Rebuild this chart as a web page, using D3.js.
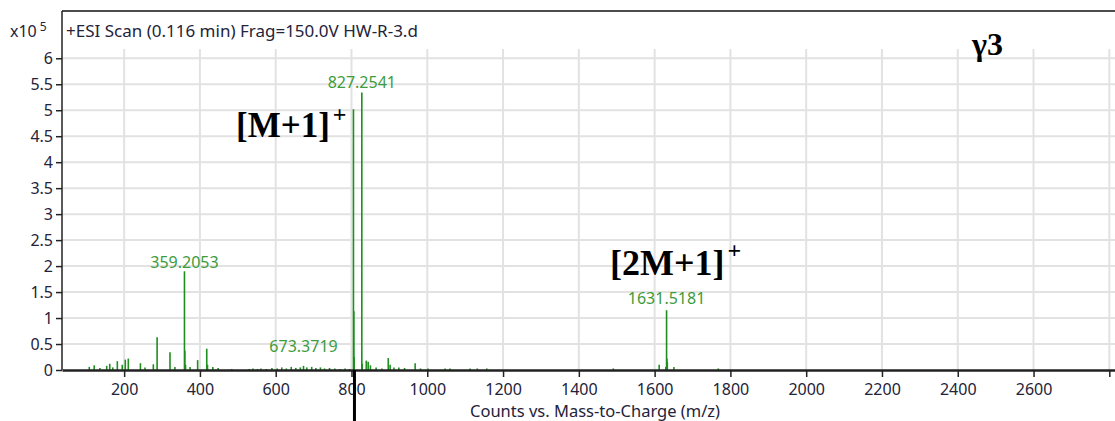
<html lang="en">
<head>
    <meta charset="UTF-8">
    <title>ESI Scan HW-R-3</title>
    <script src="https://d3js.org/d3.v7.min.js"></script>
    <style>
        body { margin: 0; background: #fff; }
        svg text { font-family: "Noto Sans", "Open Sans", sans-serif; }
        .axis path, .axis line { stroke: #222; }
        .axis text { fill: #23233a; font-size: 16px; }
        .grid line { stroke: #e2e2e2; stroke-width: 2; }
        .ann { font-family: "Liberation Serif", "Times New Roman", serif !important; font-weight: bold; fill: #000; }
    </style>
</head>
<body>
<div id="chart"></div>
<script>
    // chart data (intensity in units of 10^5 counts)
    var title = "+ESI Scan (0.116 min) Frag=150.0V HW-R-3.d";
    var xTitle = "Counts vs. Mass-to-Charge (m/z)";
    var xTicks = [200, 400, 600, 800, 1000, 1200, 1400, 1600, 1800, 2000, 2200, 2400, 2600];
    var yTicks = [0, 0.5, 1, 1.5, 2, 2.5, 3, 3.5, 4, 4.5, 5, 5.5, 6];

    var peakMz = [108, 121, 136, 154, 162, 170, 182, 195, 203, 211, 243, 255, 277, 287, 321, 334,
        359.2053, 360.2, 362, 374, 394, 418, 420, 434, 448, 484,
        530, 540, 552, 561, 575, 590, 604, 616, 628, 641, 653, 665, 673.3719, 682, 695, 706, 718, 729, 742, 756, 770, 783, 795,
        805.2, 806.2, 807.2, 827.2541, 828.3, 839, 844, 850, 865, 880, 897, 902, 912, 925, 940, 968, 982, 1002,
        1047, 1060, 1113, 1132, 1157, 1491, 1612, 1629.5, 1631.5181, 1632.5, 1633.5, 1651, 1768];
    var peakInt = [0.06, 0.09, 0.04, 0.08, 0.12, 0.05, 0.17, 0.1, 0.2, 0.22, 0.13, 0.05, 0.11, 0.63, 0.34, 0.06,
        1.9, 0.37, 0.1, 0.06, 0.19, 0.41, 0.1, 0.06, 0.04, 0.02,
        0.02, 0.03, 0.02, 0.03, 0.02, 0.04, 0.03, 0.05, 0.03, 0.06, 0.04, 0.05, 0.08, 0.05, 0.06, 0.04, 0.05, 0.03, 0.04, 0.03, 0.02, 0.03, 0.02,
        5.02, 1.13, 0.25, 5.34, 0.12, 0.18, 0.16, 0.09, 0.05, 0.03, 0.23, 0.1, 0.05, 0.05, 0.04, 0.13, 0.03, 0.03,
        0.03, 0.03, 0.03, 0.03, 0.03, 0.03, 0.1, 0.06, 1.15, 0.22, 0.15, 0.06, 0.03];

    // labelled peaks: m/z, label y-value
    var labelMz = [359.2053, 673.3719, 827.2541, 1631.5181];
    var labelText = ["359.2053", "673.3719", "827.2541", "1631.5181"];
    var labelAt = [1.96, 0.34, 5.42, 1.27];

    var width = 1115, height = 421;
    var svg = d3.select("#chart").append("svg")
        .attr("width", width)
        .attr("height", height);

    var x = d3.scaleLinear().domain([36, 2815]).range([62, 1115]);
    var y = d3.scaleLinear().domain([0, 6.91]).range([370, 11]);

    // grid
    var grid = svg.append("g").attr("class", "grid");
    grid.selectAll(".vg").data(xTicks.concat([2800])).enter().append("line")
        .attr("x1", function (d) { return x(d); })
        .attr("x2", function (d) { return x(d); })
        .attr("y1", 49).attr("y2", y(0));
    grid.selectAll(".hg").data(yTicks.slice(1)).enter().append("line")
        .attr("x1", x(36)).attr("x2", width)
        .attr("y1", function (d) { return y(d); })
        .attr("y2", function (d) { return y(d); });

    // peaks
    var peaks = peakMz.map(function (m, i) { return {mz: m, v: peakInt[i]}; });
    svg.append("g").selectAll("line").data(peaks).enter().append("line")
        .attr("x1", function (d) { return x(d.mz); })
        .attr("x2", function (d) { return x(d.mz); })
        .attr("y1", y(0))
        .attr("y2", function (d) { return y(d.v); })
        .attr("stroke", "#1e8f1e")
        .attr("stroke-width", 1.6);

    svg.append("g").selectAll("text").data(labelMz).enter().append("text")
        .attr("x", function (d) { return x(d); })
        .attr("y", function (d, i) { return y(labelAt[i]); })
        .attr("text-anchor", "middle")
        .attr("fill", "#3c9c3c")
        .style("font-size", "16px")
        .text(function (d, i) { return labelText[i]; });

    // axes
    var xAxis = svg.append("g").attr("class", "axis")
        .attr("transform", "translate(0," + y(0) + ")")
        .call(d3.axisBottom(x).tickValues(xTicks.concat([2800])).tickSize(7).tickSizeOuter(0)
            .tickFormat(function (d) { return d === 2800 ? "" : d; }));
    xAxis.select(".domain").attr("stroke-width", 2.5);
    xAxis.selectAll(".tick line").attr("stroke-width", 1.5);
    xAxis.selectAll("text").attr("dy", "0.95em");

    var yAxis = svg.append("g").attr("class", "axis")
        .attr("transform", "translate(" + x(36) + ",0)")
        .call(d3.axisLeft(y).tickValues(yTicks).tickSize(6).tickSizeOuter(0)
            .tickFormat(function (d) { return d; }));
    yAxis.select(".domain").attr("stroke-width", 1.5)
        .attr("d", "M0," + y(0) + "V" + y(6.91));
    yAxis.selectAll(".tick line").attr("stroke-width", 1.5);

    // frame top
    svg.append("line").attr("x1", x(36)).attr("x2", width)
        .attr("y1", 11).attr("y2", 11)
        .attr("stroke", "#111").attr("stroke-width", 1.5);

    // titles
    svg.append("text").attr("x", 66).attr("y", 37)
        .attr("fill", "#23233a").style("font-size", "17px").text(title);
    var xt = svg.append("text").attr("x", 10).attr("y", 37)
        .attr("fill", "#23233a").style("font-size", "16px").text("x10");
    xt.append("tspan").attr("dx", 3).attr("dy", -6).style("font-size", "12px").text("5");

    svg.append("text").attr("x", 595).attr("y", 417)
        .attr("text-anchor", "middle").attr("fill", "#23233a")
        .style("font-size", "16.5px").text(xTitle);

    // annotations
    svg.append("line").attr("x1", x(805.2) + 1).attr("x2", x(805.2) + 1)
        .attr("y1", y(0)).attr("y2", height)
        .attr("stroke", "#000").attr("stroke-width", 3);

    var a1 = svg.append("text").attr("class", "ann").attr("x", 236).attr("y", 137)
        .style("font-size", "35px").text("[M+1]");
    a1.append("tspan").attr("dx", 3).attr("dy", -15).style("font-size", "24px").text("+");

    var a2 = svg.append("text").attr("class", "ann").attr("x", 610).attr("y", 275)
        .style("font-size", "36px").text("[2M+1]");
    a2.append("tspan").attr("dx", 3).attr("dy", -17).style("font-size", "24px").text("+");

    svg.append("text").attr("class", "ann").attr("x", 972).attr("y", 55)
        .style("font-size", "32px").text("γ3");
</script>
</body>
</html>
